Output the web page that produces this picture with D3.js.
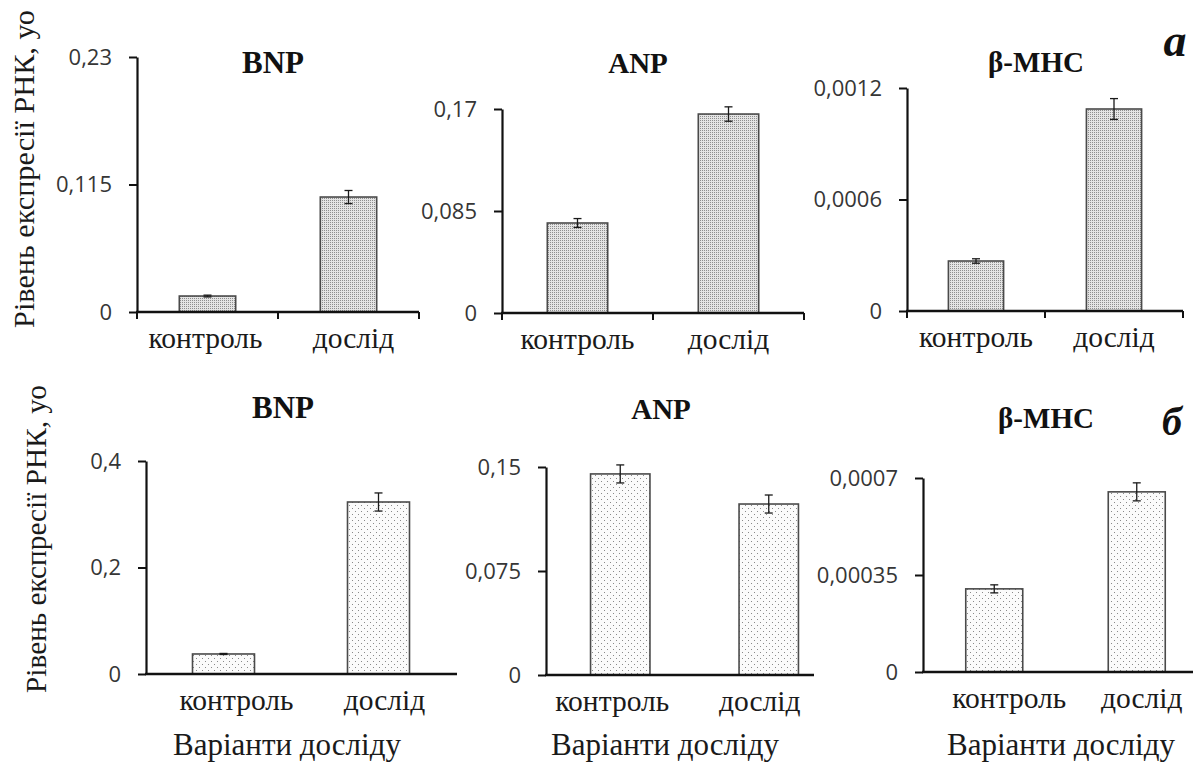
<!DOCTYPE html>
<html>
<head>
<meta charset="utf-8">
<script src="https://cdn.jsdelivr.net/npm/d3@7"></script>
<style>
  html, body { margin: 0; padding: 0; background: #fff; }
  svg { display: block; }
</style>
</head>
<body>
<svg id="chart" width="1201" height="764"></svg>
<script>
// Groups and labels
const categories = ["контроль", "дослід"];
const geneNames = ["BNP", "ANP", "β-MHC"];
const rowTags = ["а", "б"];
const axisTitleY = "Рівень експресії РНК, уо";
const axisTitleX = "Варіанти досліду";

// Row а: means and errors
const bnpMeanA = [0.0144, 0.1037];
const bnpErrA = [0.0008, 0.0059];
const anpMeanA = [0.075, 0.1658];
const anpErrA = [0.0037, 0.006];
const mhcMeanA = [0.000269, 0.001087];
const mhcErrA = [0.000012, 0.000056];

// Row б: means and errors
const bnpMeanB = [0.0376, 0.323];
const bnpErrB = [0.001, 0.017];
const anpMeanB = [0.145, 0.1233];
const anpErrB = [0.0065, 0.0065];
const mhcMeanB = [0.0003, 0.00065];
const mhcErrB = [0.0000145, 0.0000325];

// Y tick values
const bnpTicksA = [0, 0.115, 0.23];
const anpTicksA = [0, 0.085, 0.17];
const mhcTicksA = [0, 0.0006, 0.0012];
const bnpTicksB = [0, 0.2, 0.4];
const anpTicksB = [0, 0.075, 0.15];
const mhcTicksB = [0, 0.00035, 0.0007];

const SERIF = '"Liberation Serif", "FreeSerif", serif';
const SANS = '"Open Sans", sans-serif';

const svg = d3.select("#chart");
const defs = svg.append("defs");

// Fine dense stipple for row а
const pDense = defs.append("pattern").attr("id", "dense")
  .attr("patternUnits", "userSpaceOnUse").attr("width", 2).attr("height", 2);
pDense.append("rect").attr("width", 2).attr("height", 2).attr("fill", "#e4e4e4");
pDense.append("rect").attr("x", 0).attr("y", 0).attr("width", 1).attr("height", 1).attr("fill", "#8e8e8e");

// Sparse dots for row б
const pSparse = defs.append("pattern").attr("id", "sparse")
  .attr("patternUnits", "userSpaceOnUse").attr("width", 6).attr("height", 6);
pSparse.append("rect").attr("width", 6).attr("height", 6).attr("fill", "#fbfbfb");
pSparse.append("rect").attr("x", 1).attr("y", 1).attr("width", 1).attr("height", 1).attr("fill", "#8a8a8a");
pSparse.append("rect").attr("x", 4).attr("y", 4).attr("width", 1).attr("height", 1).attr("fill", "#8a8a8a");

const fmt = v => String(v).replace(".", ",");

// Scale a text's font size so that it spans the given width
function fitWidth(sel, width) {
  sel.each(function () {
    const fs = parseFloat(this.style.fontSize);
    const w = this.getComputedTextLength();
    if (w > 0) d3.select(this).style("font-size", (fs * width / w).toFixed(2) + "px");
  });
}

const panels = [
  { name: geneNames[0], mean: bnpMeanA, err: bnpErrA, ticks: bnpTicksA, fill: "url(#dense)",
    x0: 137, x1: 419, axisEnd: 419, yTop: 57, yZero: 312, titleX: 273, titleY: 73, catTicks: true, labelDx: [-2, 5] },
  { name: geneNames[1], mean: anpMeanA, err: anpErrA, ticks: anpTicksA, fill: "url(#dense)",
    x0: 502, x1: 804, axisEnd: 804, yTop: 109, yZero: 313, titleX: 638, titleY: 73, catTicks: true, labelDx: [0, 0] },
  { name: geneNames[2], mean: mhcMeanA, err: mhcErrA, ticks: mhcTicksA, fill: "url(#dense)",
    x0: 907, x1: 1183, axisEnd: 1183, yTop: 88, yZero: 311, titleX: 1036, titleY: 72, catTicks: true, labelDx: [0, 0] },
  { name: geneNames[0], mean: bnpMeanB, err: bnpErrB, ticks: bnpTicksB, fill: "url(#sparse)",
    x0: 146, x1: 456, axisEnd: 457, yTop: 461, yZero: 674, titleX: 283, titleY: 418, catTicks: false, labelDx: [13, 6], xTitleX: 287 },
  { name: geneNames[1], mean: anpMeanB, err: anpErrB, ticks: anpTicksB, fill: "url(#sparse)",
    x0: 546, x1: 843, axisEnd: 814, yTop: 467, yZero: 675, titleX: 661, titleY: 419, catTicks: false, labelDx: [-8, -9], xTitleX: 665 },
  { name: geneNames[2], mean: mhcMeanB, err: mhcErrB, ticks: mhcTicksB, fill: "url(#sparse)",
    x0: 923, x1: 1208, axisEnd: 1193, yTop: 478, yZero: 672, titleX: 1046, titleY: 428, catTicks: false, labelDx: [15, 5], xTitleX: 1061 }
];

panels.forEach(p => {
  const g = svg.append("g");
  const x = d3.scaleBand().domain(categories).range([p.x0, p.x1]).paddingInner(0.6).paddingOuter(0.3);
  const y = d3.scaleLinear().domain([0, d3.max(p.ticks)]).range([p.yZero, p.yTop]);

  // bars
  g.selectAll("rect.bar").data(categories).join("rect")
    .attr("class", "bar")
    .attr("x", d => x(d))
    .attr("width", x.bandwidth())
    .attr("y", (d, i) => y(p.mean[i]))
    .attr("height", (d, i) => y(0) - y(p.mean[i]))
    .attr("fill", p.fill)
    .attr("stroke", "#4a4a4a")
    .attr("stroke-width", 1.6);

  // error bars
  const eg = g.selectAll("g.err").data(categories).join("g").attr("class", "err")
    .attr("stroke", "#1a1a1a").attr("stroke-width", 1.3);
  eg.append("line")
    .attr("x1", d => x(d) + x.bandwidth() / 2).attr("x2", d => x(d) + x.bandwidth() / 2)
    .attr("y1", (d, i) => y(p.mean[i] + p.err[i])).attr("y2", (d, i) => y(p.mean[i] - p.err[i]));
  [1, -1].forEach(s => {
    eg.append("line")
      .attr("x1", d => x(d) + x.bandwidth() / 2 - 4).attr("x2", d => x(d) + x.bandwidth() / 2 + 4)
      .attr("y1", (d, i) => y(p.mean[i] + s * p.err[i])).attr("y2", (d, i) => y(p.mean[i] + s * p.err[i]));
  });

  // y axis
  const ya = g.append("g").attr("transform", `translate(${p.x0},0)`)
    .call(d3.axisLeft(y).tickValues(p.ticks).tickFormat(fmt).tickSize(8).tickSizeOuter(0).tickPadding(17));
  ya.attr("font-family", null).attr("font-size", null);
  ya.select(".domain").attr("stroke", "#111").attr("stroke-width", 2.2);
  ya.selectAll(".tick line").attr("stroke", "#111").attr("stroke-width", 2);
  ya.selectAll(".tick text").style("font-family", SANS).style("font-size", "22px").attr("fill", "#363636");

  // x axis line
  g.append("line").attr("x1", p.x0 - 1).attr("x2", p.axisEnd)
    .attr("y1", y(0)).attr("y2", y(0)).attr("stroke", "#111").attr("stroke-width", 2.6);
  if (p.catTicks) {
    const step = x.step();
    [p.x0, p.x0 + step, p.x0 + 2 * step].forEach(tx => {
      g.append("line").attr("x1", tx).attr("x2", tx).attr("y1", y(0)).attr("y2", y(0) + 7)
        .attr("stroke", "#111").attr("stroke-width", 2);
    });
  }

  // category labels
  const cats = g.selectAll("text.cat").data(categories).join("text")
    .attr("class", "cat")
    .attr("x", (d, i) => x(d) + x.bandwidth() / 2 + p.labelDx[i])
    .attr("y", y(0) + 36)
    .attr("text-anchor", "middle")
    .style("font-family", SERIF)
    .style("font-size", "28px")
    .attr("fill", "#1a1a1a")
    .text(d => d);
  fitWidth(cats.filter((d, i) => i === 0), 114);
  cats.filter((d, i) => i === 1).style("font-size", cats.filter((d, i) => i === 0).style("font-size"));

  // panel title
  g.append("text").attr("x", p.titleX).attr("y", p.titleY)
    .attr("text-anchor", "middle")
    .style("font-family", SERIF)
    .style("font-size", p.name === geneNames[0] ? "31px" : "29px").style("font-weight", "bold")
    .attr("fill", "#111")
    .text(p.name);

  if (p.xTitleX) {
    const xt = g.append("text").attr("x", p.xTitleX).attr("y", 755)
      .attr("text-anchor", "middle")
      .style("font-family", SERIF)
      .style("font-size", "28px")
      .attr("fill", "#1a1a1a")
      .text(axisTitleX);
    fitWidth(xt, 228);
  }
});

// y axis titles for both rows
[[24, 169, 318], [36, 539, 308]].forEach(([cx, cy, len]) => {
  const t = svg.append("text")
    .attr("transform", `translate(${cx + 10},${cy}) rotate(-90)`)
    .attr("text-anchor", "middle")
    .style("font-family", SERIF)
    .style("font-size", "28px")
    .attr("fill", "#1a1a1a")
    .text(axisTitleY);
  fitWidth(t, len);
});

// row tags
svg.append("text").attr("x", 1175).attr("y", 56).attr("text-anchor", "middle")
  .style("font-family", SERIF)
  .style("font-size", "46px").style("font-weight", "bold").style("font-style", "italic")
  .attr("fill", "#111").text(rowTags[0]);
svg.append("text").attr("x", 1172).attr("y", 435).attr("text-anchor", "middle")
  .style("font-family", SERIF)
  .style("font-size", "40px").style("font-weight", "bold").style("font-style", "italic")
  .attr("fill", "#111").text(rowTags[1]);
</script>
</body>
</html>
